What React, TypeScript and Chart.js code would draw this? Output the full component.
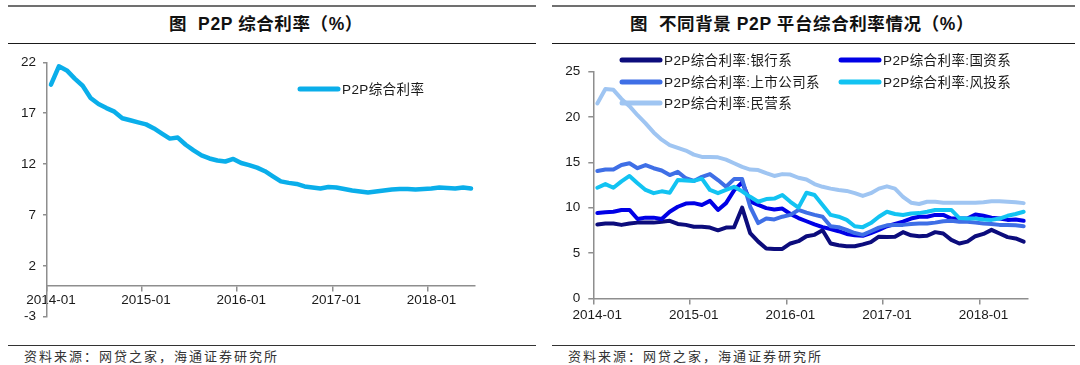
import React, { useEffect, useRef } from "react";
import { Chart, registerables } from "chart.js";

Chart.register(...registerables);

// ---------- data ----------
const months: string[] = [
  "2014-01", "2014-02", "2014-03", "2014-04", "2014-05", "2014-06", "2014-07", "2014-08", "2014-09", "2014-10", "2014-11", "2014-12",
  "2015-01", "2015-02", "2015-03", "2015-04", "2015-05", "2015-06", "2015-07", "2015-08", "2015-09", "2015-10", "2015-11", "2015-12",
  "2016-01", "2016-02", "2016-03", "2016-04", "2016-05", "2016-06", "2016-07", "2016-08", "2016-09", "2016-10", "2016-11", "2016-12",
  "2017-01", "2017-02", "2017-03", "2017-04", "2017-05", "2017-06", "2017-07", "2017-08", "2017-09", "2017-10", "2017-11", "2017-12",
  "2018-01", "2018-02", "2018-03", "2018-04", "2018-05", "2018-06",
];
const xTickLabels: string[] = ["2014-01", "2015-01", "2016-01", "2017-01", "2018-01"];

const p2pRate: number[] = [
  19.8, 21.6, 21.2, 20.4, 19.7, 18.5, 17.9, 17.5, 17.15, 16.5,
  16.3, 16.1, 15.9, 15.5, 15.0, 14.5, 14.6, 13.9, 13.35, 12.85,
  12.55, 12.35, 12.25, 12.5, 12.1, 11.9, 11.65, 11.3, 10.8, 10.3,
  10.15, 10.05, 9.8, 9.7, 9.6, 9.75, 9.7, 9.55, 9.4, 9.3,
  9.2, 9.3, 9.4, 9.5, 9.55, 9.55, 9.5, 9.55, 9.6, 9.7,
  9.65, 9.6, 9.7, 9.6,
];

const bankRate: number[] = [
  8.15, 8.25, 8.25, 8.1, 8.25, 8.35, 8.35, 8.35, 8.45, 8.55,
  8.2, 8.1, 7.9, 7.9, 7.8, 7.5, 7.8, 7.85, 10.0, 7.2,
  6.25, 5.5, 5.45, 5.45, 6.05, 6.3, 6.85, 7.0, 7.5, 6.05,
  5.85, 5.75, 5.75, 5.95, 6.2, 6.8, 6.75, 6.8, 7.3, 6.95,
  6.85, 6.9, 7.3, 7.15, 6.45, 6.05, 6.25, 6.85, 7.1, 7.55,
  7.15, 6.75, 6.6, 6.25,
];
const stateRate: number[] = [
  9.4, 9.5, 9.55, 9.75, 9.75, 8.75, 8.9, 8.9, 8.75, 9.55,
  10.1, 10.45, 10.5, 10.3, 10.75, 9.75, 10.5, 11.9, 12.8, 10.7,
  10.3, 9.95, 9.8, 9.9, 9.3, 8.85, 8.5, 8.15, 7.85, 7.65,
  7.4, 7.1, 6.95, 6.9, 7.2, 7.55, 7.95, 8.2, 8.45, 8.8,
  9.0, 9.0, 9.2, 9.2, 8.8, 8.8, 8.8, 9.25, 9.1, 8.9,
  8.8, 8.65, 8.7, 8.55,
];
const listedRate: number[] = [
  14.05, 14.2, 14.2, 14.7, 14.9, 14.35, 14.7, 14.35, 14.1, 13.6,
  13.95, 13.25, 12.95, 13.4, 13.7, 13.05, 12.3, 13.15, 13.15, 10.1,
  8.3, 8.8, 8.7, 9.0, 9.2, 9.75, 9.45, 9.2, 9.0, 7.95,
  7.85, 7.55, 7.2, 7.0, 7.4, 7.8, 8.05, 8.1, 8.1, 8.2,
  8.25, 8.25, 8.35, 8.5, 8.55, 8.45, 8.45, 8.35, 8.25, 8.2,
  8.1, 8.1, 8.05, 7.95,
];
const vcRate: number[] = [
  12.2, 12.6, 12.2, 12.9, 13.5, 12.7, 11.95, 11.6, 11.8, 11.65,
  13.05, 13.0, 12.95, 13.2, 11.95, 11.6, 11.95, 12.3, 11.8, 11.2,
  10.65, 10.95, 11.0, 11.4, 10.65, 10.0, 11.65, 11.4, 10.3, 9.2,
  9.0, 8.65, 7.95, 7.85, 8.3, 9.0, 9.55, 9.3, 9.2, 9.35,
  9.4, 9.55, 9.75, 9.75, 9.75, 8.85, 8.8, 8.8, 8.7, 8.65,
  8.8, 9.1, 9.3, 9.55,
];
const privateRate: number[] = [
  21.5, 23.1, 23.0, 22.0, 21.2, 20.2, 19.3, 18.3, 17.5, 16.9,
  16.6, 16.3, 15.85, 15.6, 15.6, 15.55, 15.3, 14.9, 14.5, 14.2,
  14.15, 13.8, 13.5, 13.7, 13.65, 13.3, 13.1, 12.6, 12.3, 12.1,
  11.95, 11.85, 11.6, 11.3, 11.6, 12.1, 12.35, 12.1, 11.2, 10.55,
  10.4, 10.65, 10.65, 10.55, 10.55, 10.55, 10.55, 10.55, 10.6, 10.7,
  10.7, 10.65, 10.6, 10.5,
];

const leftSeriesName = "P2P综合利率";
const rightSeriesNames: string[] = [
  "P2P综合利率:银行系",
  "P2P综合利率:国资系",
  "P2P综合利率:上市公司系",
  "P2P综合利率:风投系",
  "P2P综合利率:民营系",
];

// ---------- styles ----------
const AXIS = "#8e8e8e";
const TEXT = "#1a1a1a";
const TICK_FONT = { family: "'Liberation Sans', Arial, sans-serif", size: 13.5 };
const LEGEND_FONT = "13.5px 'Liberation Sans', 'Noto Sans CJK SC', sans-serif";
const leftColor = "#0aaeea";
const rightColors = ["#0c0c7c", "#0000e6", "#3f6fe6", "#12c3f2", "#9fc5f2"];

type LegendItem = { label: string; color: string; x: number; y: number };

function legendPlugin(items: LegendItem[]) {
  return {
    id: "customLegend",
    afterDraw(chart: any) {
      const ctx = chart.ctx as any;
      ctx.save();
      for (const it of items) {
        ctx.strokeStyle = it.color;
        ctx.lineWidth = 5;
        ctx.lineCap = "round";
        ctx.beginPath();
        ctx.moveTo(it.x, it.y);
        ctx.lineTo(it.x + 38, it.y);
        ctx.stroke();
        ctx.fillStyle = TEXT;
        ctx.font = LEGEND_FONT;
        if ("letterSpacing" in ctx) ctx.letterSpacing = "0.4px";
        ctx.textBaseline = "middle";
        ctx.textAlign = "left";
        ctx.fillText(it.label, it.x + 42, it.y + 1);
      }
      ctx.restore();
    },
  };
}

function xScale(position: any, padding: number) {
  return {
    type: "category",
    offset: true,
    position,
    grid: {
      display: true,
      offset: true,
      drawOnChartArea: false,
      drawTicks: true,
      tickLength: 5,
      lineWidth: 1.5,
      color: (c: any) => (xTickLabels.includes(months[c.index]) ? AXIS : "rgba(0,0,0,0)"),
    },
    border: { display: true, color: AXIS, width: 1.5 },
    ticks: {
      autoSkip: false,
      maxRotation: 0,
      minRotation: 0,
      padding,
      color: TEXT,
      font: TICK_FONT,
      callback: (_v: any, i: number) => (xTickLabels.includes(months[i]) ? months[i] : ""),
    },
  };
}

function yScale(min: number, max: number, padding: number, tickLength: number) {
  return {
    min,
    max,
    grid: { drawOnChartArea: false, drawTicks: true, tickLength, color: AXIS, lineWidth: 1.5 },
    border: { display: true, color: AXIS, width: 1.5 },
    ticks: { stepSize: 5, padding, color: TEXT, font: TICK_FONT },
    afterFit: (s: any) => {
      s.width = 40;
    },
  };
}

function leftConfig(): any {
  return {
    type: "line",
    data: {
      labels: months,
      datasets: [
        {
          label: leftSeriesName,
          data: p2pRate,
          borderColor: leftColor,
          backgroundColor: leftColor,
          borderWidth: 4.5,
          pointRadius: 0,
          tension: 0,
          fill: false,
          borderJoinStyle: "round",
          borderCapStyle: "round",
        },
      ],
    },
    options: {
      responsive: false,
      animation: false,
      layout: { padding: { left: 7, top: 18.3, right: 65, bottom: 23.3 } },
      plugins: { legend: { display: false }, tooltip: { enabled: false } },
      scales: {
        x: xScale({ y: 0 }, 1),
        y: yScale(-3, 22, 7, 4),
      },
    },
    plugins: [legendPlugin([{ label: leftSeriesName, color: leftColor, x: 300, y: 45 }])],
  };
}

function rightConfig(): any {
  const seriesData = [bankRate, stateRate, listedRate, vcRate, privateRate];
  const datasets = seriesData.map((d, i) => ({
    label: rightSeriesNames[i],
    data: d,
    borderColor: rightColors[i],
    backgroundColor: rightColors[i],
    borderWidth: 4,
    pointRadius: 0,
    tension: 0,
    fill: false,
    borderJoinStyle: "round",
    borderCapStyle: "round",
    order: 5 - i,
  }));
  const legendPos = [
    { x: 82, y: 16 },
    { x: 301, y: 16 },
    { x: 82, y: 38 },
    { x: 301, y: 38 },
    { x: 82, y: 59 },
  ];
  return {
    type: "line",
    data: { labels: months, datasets },
    options: {
      responsive: false,
      animation: false,
      layout: { padding: { left: 13.3, top: 27.7, right: 52.3, bottom: 41.7 } },
      plugins: { legend: { display: false }, tooltip: { enabled: false } },
      scales: {
        x: xScale({ y: 0 }, 4),
        y: yScale(0, 25, 8, 5),
      },
    },
    plugins: [
      legendPlugin(
        rightSeriesNames.map((n, i) => ({ label: n, color: rightColors[i], x: legendPos[i].x, y: legendPos[i].y }))
      ),
    ],
  };
}

function ChartCanvas({ make, left, top, width, height }: any) {
  const ref = useRef<HTMLCanvasElement>(null);
  useEffect(() => {
    const chart = new Chart(ref.current as HTMLCanvasElement, make());
    return () => chart.destroy();
  }, []);
  return (
    <canvas
      ref={ref}
      width={width}
      height={height}
      style={{ position: "absolute", left, top, width, height }}
    />
  );
}

const titleFont = "'Liberation Sans', 'Noto Sans CJK SC', sans-serif";
const sourceFont = "'Noto Sans CJK SC', sans-serif";

function Panel({ x, w, titleLeft, titleWidth, title, children }: any) {
  return (
    <>
      <div style={{ position: "absolute", left: x, top: 4.5, width: w, height: 2.5, background: "#707070" }} />
      <div
        style={{
          position: "absolute",
          left: titleLeft,
          width: titleWidth,
          top: 13,
          height: 22,
          lineHeight: "22px",
          textAlign: "center",
          fontFamily: titleFont,
          fontWeight: "bold",
          fontSize: 17.5,
          letterSpacing: 0.6,
          color: "#111",
          whiteSpace: "pre",
        }}
      >
        {title}
      </div>
      <div style={{ position: "absolute", left: x, top: 42.5, width: w, height: 1.5, background: "#1a1a1a" }} />
      {children}
      <div style={{ position: "absolute", left: x, top: 344.5, width: w, height: 1.5, background: "#333" }} />
      <div
        style={{
          position: "absolute",
          left: x + 16,
          top: 347,
          height: 18,
          lineHeight: "18px",
          fontFamily: sourceFont,
          fontSize: 13,
          letterSpacing: 2,
          color: "#333",
          whiteSpace: "pre",
        }}
      >
        资料来源：网贷之家，海通证券研究所
      </div>
    </>
  );
}

export default function App() {
  return (
    <div
      style={{
        position: "absolute",
        left: 0,
        top: 0,
        width: 1080,
        height: 365,
        overflow: "hidden",
        background: "#fff",
      }}
    >
      <Panel x={8} w={528} titleLeft={8} titleWidth={516} title={"图  P2P 综合利率（%）"}>
        <ChartCanvas make={leftConfig} left={0} top={44} width={540} height={296} />
      </Panel>
      <Panel x={552} w={523} titleLeft={552} titleWidth={500} title={"图  不同背景 P2P 平台综合利率情况（%）"}>
        <ChartCanvas make={rightConfig} left={540} top={44} width={540} height={296} />
      </Panel>
    </div>
  );
}
